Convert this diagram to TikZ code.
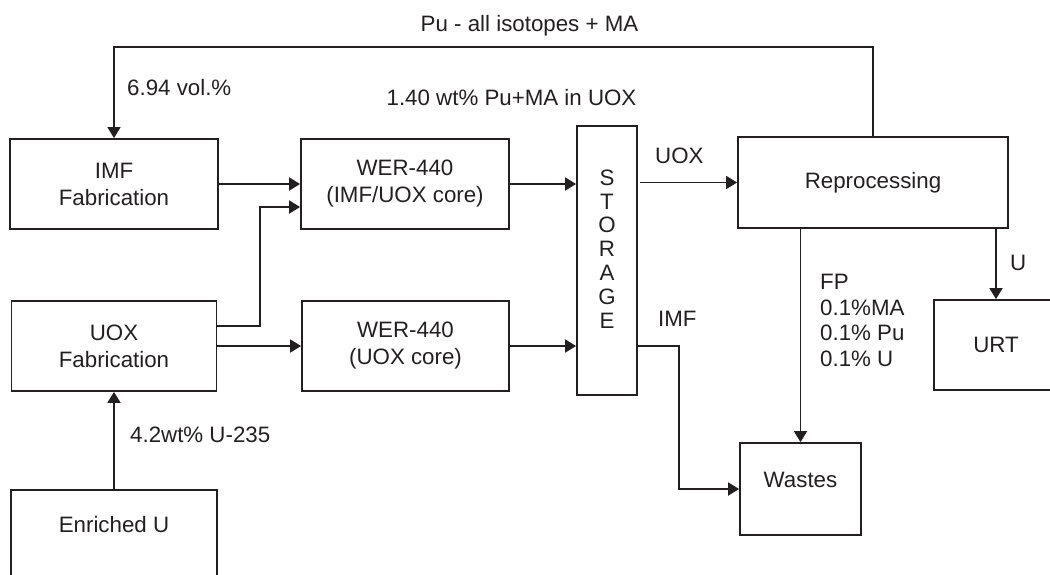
\documentclass[tikz,border=0pt]{standalone}
\usepackage{fontspec}
\setmainfont{Liberation Sans}
\usetikzlibrary{arrows.meta}
\definecolor{ink}{RGB}{35,31,32}
\begin{document}
\begin{tikzpicture}[x=1pt,y=-1pt,
  box/.style={draw=ink,line width=1.8pt,inner sep=0pt,text=ink,align=center,
    font=\fontsize{22.3}{27}\selectfont},
  lbl/.style={text=ink,inner sep=0pt,font=\fontsize{22.3}{25.5}\selectfont},
  conn/.style={draw=ink,line width=1.8pt},
  arr/.style={conn,-{Triangle[length=11pt,width=13pt]}}]
\useasboundingbox (0,0) rectangle (1050,574);
\clip (0,0) rectangle (1050,574);
% boxes
\node[box,minimum width=208pt,minimum height=90pt] (imf) at (114,184) {IMF\\Fabrication};
\node[box,minimum width=208pt,minimum height=90pt] (wer1) at (405,184) {WER-440\\(IMF/UOX core)};
\node[box,minimum width=60pt,minimum height=269pt] (stor) at (607,260.5) {};
\node[lbl,align=center,font=\fontsize{22.3}{23.8}\selectfont] (stortext) at (607,249) {S\\T\\O\\R\\A\\G\\E};
\node[box,minimum width=270pt,minimum height=91pt] (repro) at (873,182.5) {Reprocessing};
\node[box,minimum width=205pt,minimum height=90pt] (uox) at (114,346) {UOX\\Fabrication};
\node[box,minimum width=207pt,minimum height=90pt] (wer2) at (405.5,346) {WER-440\\(UOX core)};
\node[box,minimum width=121pt,minimum height=92pt] (wastes) at (800.5,489) {};
\node[lbl] (wastestext) at (800.5,480) {Wastes};
\node[box,minimum width=124pt,minimum height=90pt] (urt) at (996,345) {URT};
\node[box,minimum width=206pt,minimum height=90pt] (enr) at (114,535) {};
\node[lbl] (enrtext) at (114,525) {Enriched U};
% labels
\node[lbl] (pulbl) at (529.5,26) {Pu - all isotopes + MA};
\node[lbl,anchor=west] (vollbl) at (127,88) {6.94 vol.\%};
\node[lbl] (wtlbl) at (511.5,98) {1.40 wt\% Pu+MA in UOX};
\node[lbl,anchor=west] (uoxlbl) at (655,156) {UOX};
\node[lbl,anchor=west] (imflbl) at (658,319) {IMF};
\node[lbl,anchor=west] (ulbl) at (1010,263) {U};
\node[lbl,anchor=north west,align=left] (fplbl) at (820,274) {FP\\0.1\%MA\\0.1\% Pu\\0.1\% U};
\node[lbl,anchor=west] (enrlbl) at (130,435) {4.2wt\% U-235};
% coordinates
\coordinate (loopR) at (873,47);
\coordinate (loopL) at (114,47);
\coordinate (j1) at (260,326);
\coordinate (j2) at (260,207);
\coordinate (k1) at (679,346);
\coordinate (k2) at (679,489);
% connectors
\draw[arr] (repro.north) -- (loopR) -- (loopL) -- (imf.north);
\draw[arr] (imf.east) -- (wer1.west);
\draw[arr] ([yshift=20pt]uox.east) -- (j1) -- (j2) -- ([yshift=-23pt]wer1.west);
\draw[arr] (uox.east) -- (wer2.west);
\draw[arr] (wer1.east) -- (wer1.east -| stor.west);
\draw[arr] (wer2.east) -- (wer2.east -| stor.west);
\draw[arr] ([xshift=2pt]stor.east |- repro.west) -- (repro.west);
\draw[arr] (stor.east |- k1) -- (k1) -- (k2) -- (wastes.west);
\draw[arr] (wastes.north |- repro.south) -- (wastes.north);
\draw[arr] (urt.north |- repro.south) -- (urt.north);
\draw[arr] (enr.north) -- (uox.south);
\end{tikzpicture}
\end{document}
